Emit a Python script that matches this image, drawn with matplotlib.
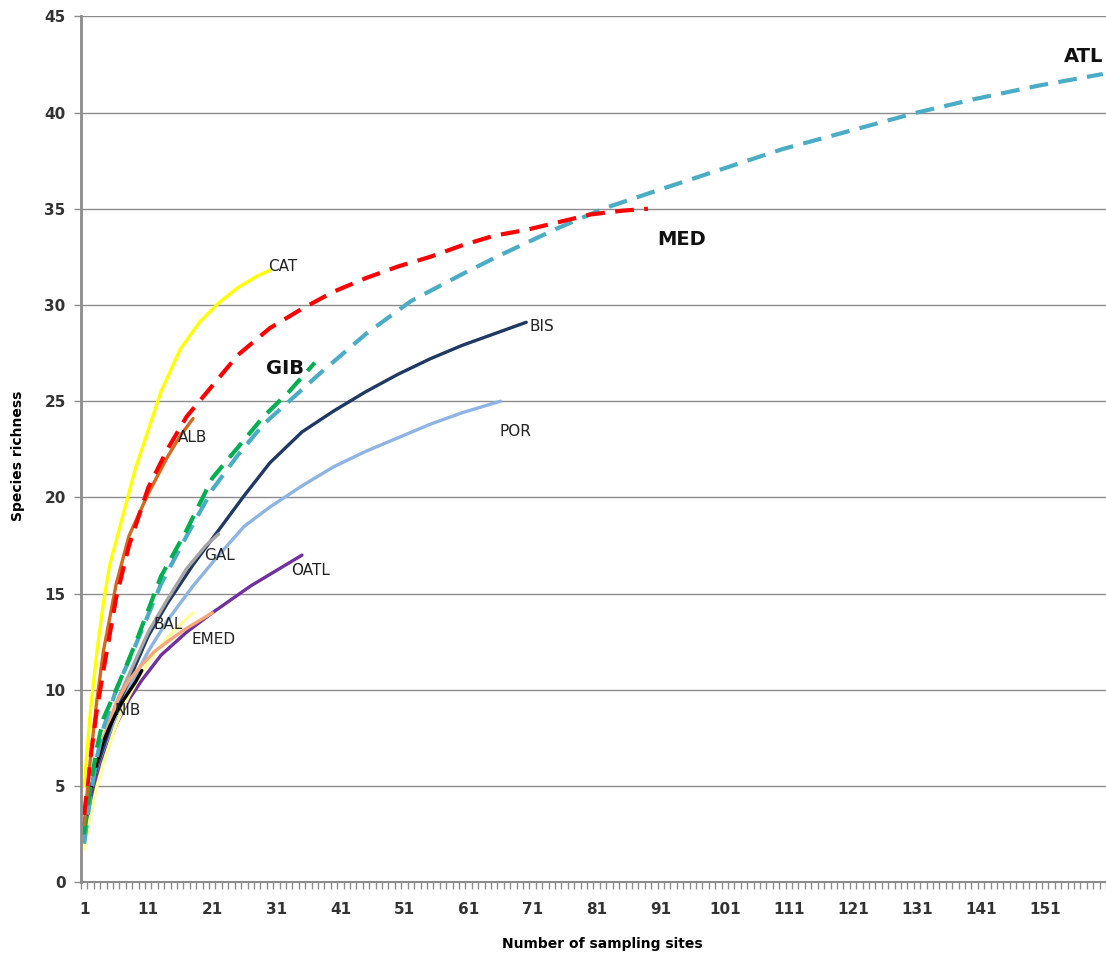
import matplotlib
matplotlib.use('Agg')
import matplotlib.pyplot as plt
from matplotlib.ticker import FixedLocator

# curvas de rarefaccion
cat_x = [1, 2, 3, 4, 5, 7, 9, 11, 13, 16, 19, 22, 25, 28, 30]
cat_y = [5, 9, 12, 14.5, 16.5, 19, 21.5, 23.5, 25.5, 27.7, 29.1, 30.1, 30.9, 31.5, 31.8]

med_x = [1, 2, 3, 4, 6, 8, 11, 14, 17, 20, 25, 30, 35, 40, 45, 50, 55, 60, 65, 70, 75, 80, 85, 89]
med_y = [3.5, 6.5, 9, 11, 14.8, 17.5, 20.5, 22.5, 24.2, 25.4, 27.4, 28.8, 29.8, 30.7, 31.4, 32,
         32.5, 33.1, 33.6, 33.9, 34.3, 34.7, 34.9, 35]

alb_x = [1, 2, 3, 4, 6, 8, 11, 14, 16, 18]
alb_y = [3, 6.5, 9.5, 12, 15.5, 18, 20.2, 22.1, 23.2, 24.1]

gib_x = [1, 2, 3, 4, 6, 9, 13, 17, 21, 25, 29, 33, 37]
gib_y = [2.5, 5, 7, 8.5, 10, 12.4, 15.9, 18.3, 21, 22.6, 24.2, 25.5, 27]

atl_x = [1, 2, 3, 4, 6, 9, 13, 17, 21, 25, 29, 33, 38, 45, 52, 60, 66, 75, 82, 90, 100,
         110, 120, 131, 140, 150, 160]
atl_y = [2, 4.5, 6.5, 8, 10, 12.3, 15.5, 18, 20.4, 22.2, 23.8, 25, 26.5, 28.5, 30.2, 31.6,
         32.6, 34, 35, 35.9, 37, 38.1, 39, 40, 40.7, 41.4, 42]

bis_x = [1, 2, 3, 4, 6, 8, 11, 14, 18, 22, 26, 30, 35, 40, 45, 50, 55, 60, 65, 70]
bis_y = [3, 4.5, 6, 7, 9, 10.5, 12.8, 14.5, 16.5, 18.3, 20.1, 21.8, 23.4, 24.5, 25.5, 26.4,
         27.2, 27.9, 28.5, 29.1]

gal_x = [1, 2, 3, 4, 6, 8, 11, 14, 17, 20, 22]
gal_y = [3, 4.8, 6.2, 7.3, 9.3, 10.8, 13, 14.7, 16.3, 17.5, 18.1]

por_x = [1, 2, 3, 4, 6, 8, 11, 14, 18, 22, 26, 30, 35, 40, 45, 50, 55, 60, 66]
por_y = [2.5, 4.2, 5.5, 6.7, 8.6, 10.1, 12, 13.6, 15.4, 17, 18.5, 19.5, 20.6, 21.6, 22.4,
         23.1, 23.8, 24.4, 25]

oatl_x = [1, 2, 3, 4, 6, 8, 10, 13, 17, 21, 24, 27, 30, 33, 35]
oatl_y = [2.5, 4, 5.3, 6.4, 8.2, 9.5, 10.5, 11.8, 13, 14, 14.7, 15.4, 16, 16.6, 17]

emed_x = [1, 2, 3, 4, 6, 8, 10, 12, 14, 17, 19, 21]
emed_y = [3, 4.8, 6.2, 7.5, 9.3, 10.5, 11.3, 12, 12.5, 13.2, 13.6, 14]

bal_x = [1, 2, 3, 4, 6, 8, 10, 12, 14, 16, 18]
bal_y = [1.7, 3.5, 5, 6.2, 8.2, 9.7, 10.9, 11.9, 12.7, 13.4, 14]

nib_x = [1, 2, 3, 4, 5, 6, 7, 8, 9, 10]
nib_y = [3, 4.8, 6.2, 7.3, 8.1, 8.8, 9.4, 9.9, 10.4, 11]

x_ticks = list(range(1, 152, 10))
y_ticks = list(range(0, 46, 5))

fig = plt.figure(figsize=(11.06, 9.6), dpi=100)
ax = fig.add_axes([0.0732, 0.081, 0.9268, 0.902])

sol = dict(lw=2.4, solid_capstyle='round')
das = dict(lw=3.0, dashes=(4.5, 2.5))

ax.plot(por_x, por_y, color='#8DB4E2', **sol)
ax.plot(bis_x, bis_y, color='#1F3864', **sol)
ax.plot(gal_x, gal_y, color='#A6A6A6', **sol)
ax.plot(oatl_x, oatl_y, color='#7030A0', **sol)
ax.plot(bal_x, bal_y, color='#FFFF99', **sol)
ax.plot(emed_x, emed_y, color='#F8A878', **sol)
ax.plot(nib_x, nib_y, color='#000000', **sol)
ax.plot(atl_x, atl_y, color='#4BACC6', **das)
ax.plot(gib_x, gib_y, color='#00B050', **das)
ax.plot(alb_x, alb_y, color='#D2691E', **sol)
ax.plot(med_x, med_y, color='#FF0000', **das)
ax.plot(cat_x, cat_y, color='#FFFF00', **sol)

# etiquetas de las series
lab = dict(fontsize=11, color='#222222', va='center', ha='left')
big = dict(fontsize=14, fontweight='bold', color='#111111', va='center', ha='left')
ax.text(29.7, 32, 'CAT', **lab)
ax.text(15.7, 23.1, 'ALB', **lab)
ax.text(29.4, 26.7, 'GIB', **big)
ax.text(90.4, 33.4, 'MED', **big)
ax.text(154, 42.9, 'ATL', **big)
ax.text(70.5, 28.9, 'BIS', **lab)
ax.text(65.8, 23.4, 'POR', **lab)
ax.text(19.7, 17, 'GAL', **lab)
ax.text(33.3, 16.2, 'OATL', **lab)
ax.text(11.9, 13.4, 'BAL', **lab)
ax.text(17.7, 12.6, 'EMED', **lab)
ax.text(5.7, 8.9, 'NIB', **lab)

ax.set_xlim(0.5, 160.5)
ax.set_ylim(0, 45)
ax.xaxis.set_major_locator(FixedLocator(x_ticks))
ax.xaxis.set_minor_locator(FixedLocator([i + 0.5 for i in range(0, 161)]))
ax.set_yticks(y_ticks)
ax.tick_params(axis='x', which='major', length=0, pad=14, labelsize=11, labelcolor='#333333')
ax.tick_params(axis='x', which='minor', length=5, width=1, color='#8C8C8C')
ax.tick_params(axis='y', length=5, width=1, color='#8C8C8C', labelsize=11, labelcolor='#333333', pad=6)
for t in ax.get_xticklabels() + ax.get_yticklabels():
    t.set_fontweight('bold')

ax.grid(axis='y', color='#8C8C8C', lw=1)
ax.set_axisbelow(True)
for s in ['top', 'right']:
    ax.spines[s].set_visible(False)
ax.spines['left'].set_color('#8C8C8C')
ax.spines['left'].set_linewidth(2)
ax.spines['bottom'].set_color('#8C8C8C')
ax.spines['bottom'].set_linewidth(1.5)

fig.text(0.545, 0.013, 'Number of sampling sites', fontsize=10, fontweight='bold', ha='center')
fig.text(0.016, 0.525, 'Species richness', fontsize=10, fontweight='bold', rotation=90,
         va='center', ha='center', family=['Liberation Sans Narrow', 'DejaVu Sans'])

fig.savefig('out.png', dpi=100)
